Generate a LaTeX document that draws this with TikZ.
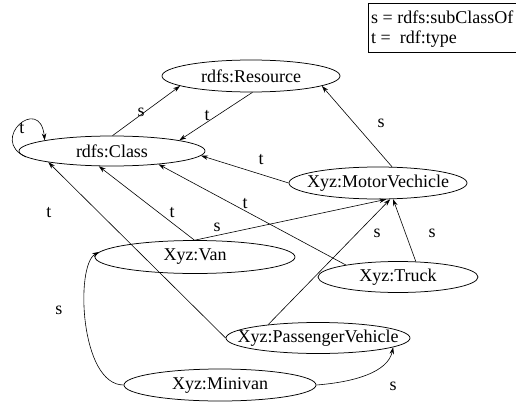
\documentclass[tikz,border=0pt]{standalone}
\usepackage{fontspec}
\setmainfont{Liberation Serif}
\usetikzlibrary{shapes.geometric,arrows.meta}
\begin{document}
\begin{tikzpicture}[x=1pt,y=-1pt,
  every node/.style={font=\fontsize{18}{21}\selectfont},
  cls/.style={draw,ellipse,inner sep=0pt,line width=0.75pt},
  edge/.style={draw,line width=0.6pt,-{Stealth[length=7pt,width=4.5pt]}},
  lbl/.style={inner sep=0pt}]
\useasboundingbox (0,0) rectangle (516,412);
% legend
\node[draw,line width=0.75pt,anchor=north west,minimum width=152pt,minimum height=49pt,inner sep=0pt] (legend) at (368,3) {};
\node[anchor=west,inner sep=0pt] (leg1) at (371,17) {s = rdfs:subClassOf};
\node[anchor=west,inner sep=0pt] (leg2) at (371,39) {t =\ \ rdf:type};
% nodes
\node[cls,minimum width=178pt,minimum height=32pt] (res) at (251,76) {\makebox[0pt]{rdfs:Resource}};
\node[cls,minimum width=186pt,minimum height=30pt] (cla) at (112,151) {\makebox[0pt]{rdfs:Class}};
\node[cls,minimum width=178pt,minimum height=32pt] (mv) at (378,183) {\makebox[0pt]{Xyz:MotorVechicle}};
\node[cls,minimum width=200pt,minimum height=33pt] (van) at (195,257) {\makebox[0pt]{Xyz:Van}};
\node[cls,minimum width=160pt,minimum height=31pt] (tru) at (398,277) {\makebox[0pt]{Xyz:Truck}};
\node[cls,minimum width=184pt,minimum height=31pt] (pv) at (318,338) {\makebox[0pt]{Xyz:PassengerVehicle}};
\node[cls,minimum width=192pt,minimum height=32pt] (mini) at (220,385) {\makebox[0pt]{Xyz:Minivan}};
% edges
\path[edge] (cla.88) -- (res.188);
\path[edge] (res.275) -- (cla.9);
\path[edge] (mv.49) -- (res.-8);
\path[edge] (mv.180) -- (cla.357);
\path[edge] (cla.184) .. controls (-12,140) and (40,94) .. (cla.171);
\path[edge] (pv.180) -- (cla.190);
\path[edge] (van.92) -- (cla.229);
\path[edge] (tru.167) -- (cla.344);
\path[edge] (van.90) -- (mv.297);
\path[edge] (pv.165) -- (mv.307);
\path[edge] (tru.41) -- (mv.313);
\path[edge] (mini.180) .. controls (80,385) and (75,265) .. (van.177);
\path[edge] (mini.0) .. controls (355,382) and (388,372) .. (pv.353);
% labels
\node[lbl] (l1) at (141,112) {s};
\node[lbl] (l2) at (207,116) {t};
\node[lbl] (l3) at (381,123) {s};
\node[lbl] (l4) at (261,160) {t};
\node[lbl] (l5) at (22,129) {t};
\node[lbl] (l6) at (49,213) {t};
\node[lbl] (l7) at (172,213) {t};
\node[lbl] (l8) at (245,204) {t};
\node[lbl] (l9) at (217,227) {s};
\node[lbl] (l10) at (377,233) {s};
\node[lbl] (l11) at (432,233) {s};
\node[lbl] (l12) at (59,310) {s};
\node[lbl] (l13) at (393,386) {s};
\end{tikzpicture}
\end{document}
